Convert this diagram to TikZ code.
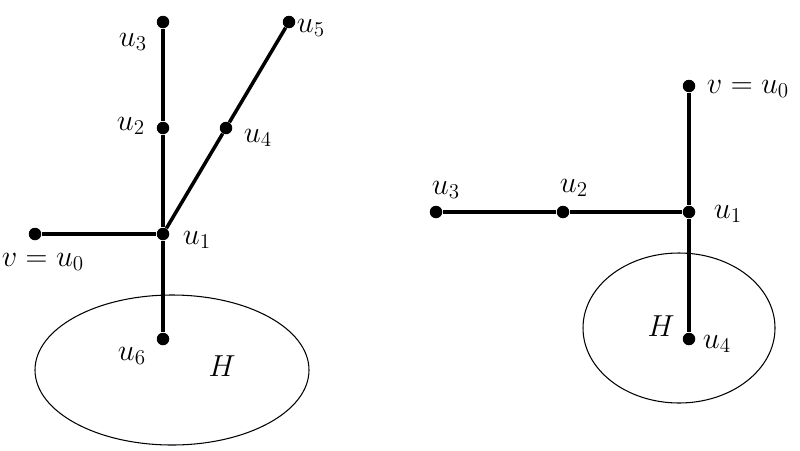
\documentclass[tikz,border=0pt]{standalone}
\usetikzlibrary{positioning}
\tikzset{
	vert/.style={circle, fill=black, inner sep=0pt, minimum size=0.25cm},
	branch/.style={line width=2pt}
}
\begin{document}
\begin{tikzpicture}[x=0.02cm, y=-0.02cm, font=\fontsize{18}{21}\selectfont]

			\useasboundingbox (0,0) rectangle (800,450);

			% The subgraphs H
			\draw[semithick] (172,370) ellipse [x radius=137, y radius=75];
			\draw[semithick] (679,328) ellipse [x radius=96, y radius=75];

			% Left tree
			\node[vert] (lu0) at (35,234) {};
			\node[vert] (lu1) at (163,234) {};
			\node[vert] (lu2) at (163,128) {};
			\node[vert] (lu3) at (163,22) {};
			\node[vert] (lu4) at (226,128) {};
			\node[vert] (lu5) at (289,22) {};
			\node[vert] (lu6) at (163,339) {};

			\draw[branch] (lu0) -- (lu1);
			\draw[branch] (lu1) -- (lu2) -- (lu3);
			\draw[branch] (lu1) -- (lu4) -- (lu5);
			\draw[branch] (lu1) -- (lu6);

			\node (tlu0) at (43,262) {$v=u_0$};
			\node (tlu1) at (197,240) {$u_1$};
			\node (tlu2) at (131,126) {$u_2$};
			\node (tlu3) at (133,42) {$u_3$};
			\node (tlu4) at (258,138) {$u_4$};
			\node (tlu5) at (311,28) {$u_5$};
			\node (tlu6) at (132,356) {$u_6$};
			\node (tlH) at (222,366) {$H$};

			% Right tree
			\node[vert] (ru0) at (689,86) {};
			\node[vert] (ru1) at (689,212) {};
			\node[vert] (ru2) at (563,212) {};
			\node[vert] (ru3) at (436,212) {};
			\node[vert] (ru4) at (689,339) {};

			\draw[branch] (ru0) -- (ru1) -- (ru4);
			\draw[branch] (ru1) -- (ru2) -- (ru3);

			\node (tru0) at (748,89) {$v=u_0$};
			\node (tru1) at (728,214) {$u_1$};
			\node (tru2) at (574,188) {$u_2$};
			\node (tru3) at (446,190) {$u_3$};
			\node (tru4) at (717,344) {$u_4$};
			\node (trH) at (661,326) {$H$};

		\end{tikzpicture}
\end{document}
